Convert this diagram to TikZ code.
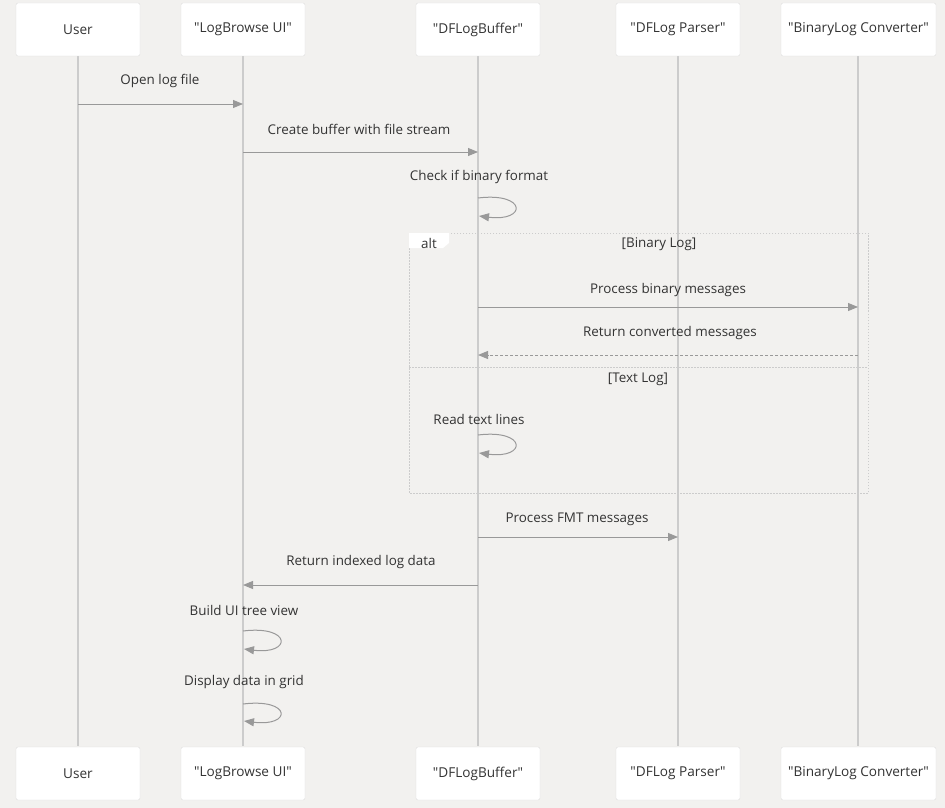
\documentclass[tikz,border=0pt]{standalone}
\usepackage{fontspec}
\setmainfont{Open Sans}
\usetikzlibrary{arrows.meta,calc}
\definecolor{bg}{HTML}{F2F1EF}
\definecolor{life}{HTML}{CCCCCC}
\definecolor{arr}{HTML}{999999}
\definecolor{txt}{HTML}{333333}
\definecolor{boxline}{HTML}{DDDDDD}
\newcommand{\qq}{\textquotedbl}
\tikzset{
  actor/.style={draw=boxline, fill=white, rounded corners=2pt, minimum height=53pt, text=txt, font=\fontsize{13.6}{15}\selectfont, inner sep=0pt},
  lifeline/.style={draw=life, line width=1.6pt},
  msg/.style={draw=arr, line width=1pt, -{Triangle[length=10pt,width=8pt]}},
  ret/.style={msg, dash pattern=on 3pt off 2pt},
  lbl/.style={text=txt, font=\fontsize{13.4}{15}\selectfont, inner sep=0pt},
  selfloop/.style={draw=arr, line width=1pt, -{Triangle[length=10pt,width=8pt]}},
  frame/.style={draw=life, line width=0.8pt, dash pattern=on 1.5pt off 1.5pt},
}
\begin{document}
\begin{tikzpicture}[x=1pt,y=-1pt]
\fill[bg] (0,0) rectangle (945,808);
\useasboundingbox (0,0) rectangle (945,808);
% lifelines first
\foreach \x in {78,243,478,678,858} {\draw[lifeline] (\x,56) -- (\x,746);}
% top actors
\node[actor, minimum width=124pt] (uT) at (78,29.5) {User};
\node[actor, minimum width=124pt] (lT) at (243,29.5) {\qq LogBrowse UI\qq};
\node[actor, minimum width=124pt] (bT) at (478,29.5) {\qq DFLogBuffer\qq};
\node[actor, minimum width=124pt] (pT) at (678,29.5) {\qq DFLog Parser\qq};
\node[actor, minimum width=155pt] (cT) at (858.5,29.5) {\qq BinaryLog Converter\qq};
% bottom actors
\node[actor, minimum width=124pt] (uB) at (78,773.5) {User};
\node[actor, minimum width=124pt] (lB) at (243,773.5) {\qq LogBrowse UI\qq};
\node[actor, minimum width=124pt] (bB) at (478,773.5) {\qq DFLogBuffer\qq};
\node[actor, minimum width=124pt] (pB) at (678,773.5) {\qq DFLog Parser\qq};
\node[actor, minimum width=155pt] (cB) at (858.5,773.5) {\qq BinaryLog Converter\qq};
% alt frame
\draw[frame] (409,233) rectangle (868,493);
\draw[frame] (409,367) -- (868,367);
\fill[white] (409,233) -- (449,233) -- (449,243) -- (443,248) -- (409,248) -- cycle;
\node[lbl] (altl) at (429,243) {alt};
\node[lbl] (g1) at (659,244) {[Binary Log]};
\node[lbl] (g2) at (638,379) {[Text Log]};
% message coordinates
\coordinate (m1a) at (78,104);  \coordinate (m1b) at (243,104);
\coordinate (m2a) at (243,152); \coordinate (m2b) at (478,152);
\coordinate (s1a) at (478,198); \coordinate (s1b) at (479,216);
\coordinate (m3a) at (478,307); \coordinate (m3b) at (858,307);
\coordinate (m4a) at (858,355); \coordinate (m4b) at (478,355);
\coordinate (s2a) at (478,435); \coordinate (s2b) at (479,453);
\coordinate (m5a) at (478,537); \coordinate (m5b) at (678,537);
\coordinate (m6a) at (478,585); \coordinate (m6b) at (243,585);
\coordinate (s3a) at (243,631); \coordinate (s3b) at (244,649);
\coordinate (s4a) at (243,704); \coordinate (s4b) at (244,721);
% messages
\draw[msg] (m1a) -- (m1b);
\node[lbl] (t1) at (160,81) {Open log file};
\draw[msg] (m2a) -- (m2b);
\node[lbl] (t2) at (359,129) {Create buffer with file stream};
\draw[selfloop] (s1a) .. controls (527,192) and (527,222) .. (s1b);
\node[lbl] (t3) at (479,177) {Check if binary format};
\draw[msg] (m3a) -- (m3b);
\node[lbl] (t4) at (668,290) {Process binary messages};
\draw[ret] (m4a) -- (m4b);
\node[lbl] (t5) at (670,333) {Return converted messages};
\draw[selfloop] (s2a) .. controls (527,429) and (527,459) .. (s2b);
\node[lbl] (t6) at (479,419) {Read text lines};
\draw[msg] (m5a) -- (m5b);
\node[lbl] (t7) at (577,519) {Process FMT messages};
\draw[msg] (m6a) -- (m6b);
\node[lbl] (t8) at (361,562) {Return indexed log data};
\draw[selfloop] (s3a) .. controls (292,625) and (292,655) .. (s3b);
\node[lbl] (t9) at (244,610) {Build UI tree view};
\draw[selfloop] (s4a) .. controls (292,698) and (292,727) .. (s4b);
\node[lbl] (t10) at (244,682) {Display data in grid};
\end{tikzpicture}
\end{document}
